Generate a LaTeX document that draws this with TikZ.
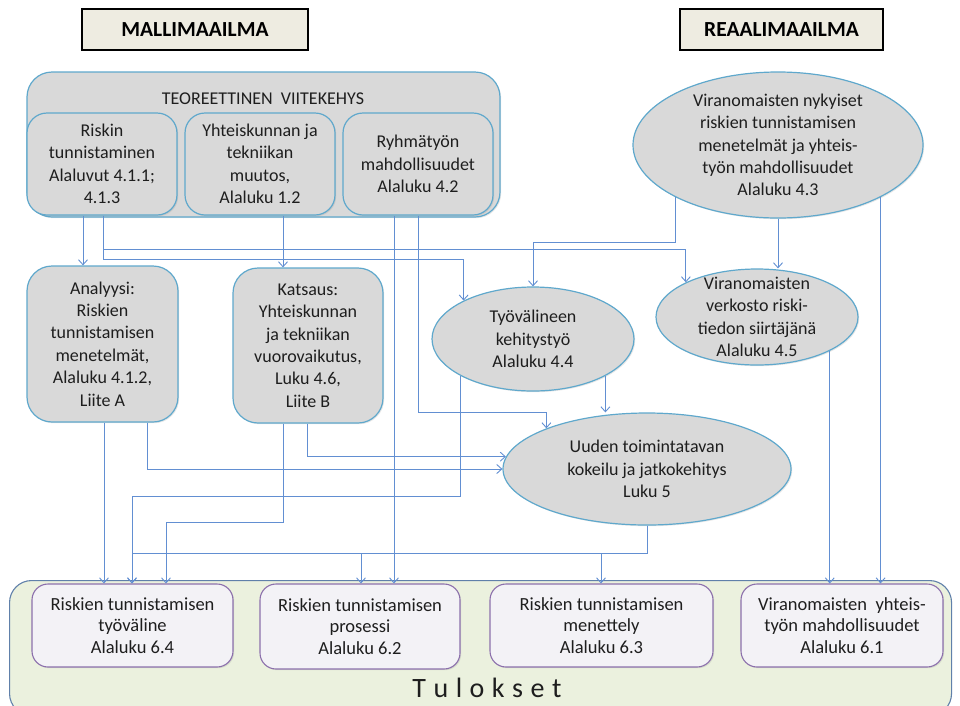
\documentclass[tikz,border=0pt]{standalone}
\usepackage{fontspec}
\setmainfont{Carlito}
\usetikzlibrary{arrows.meta,shapes.geometric,shadows}

\definecolor{boxfill}{RGB}{217,217,217}
\definecolor{boxline}{RGB}{95,168,204}
\definecolor{arrcol}{RGB}{98,143,210}
\definecolor{hdrfill}{RGB}{238,236,225}
\definecolor{resfill}{RGB}{243,242,246}
\definecolor{resline}{RGB}{140,112,172}
\definecolor{totfill}{RGB}{235,241,222}
\definecolor{totline}{RGB}{96,128,170}
\definecolor{txtcol}{RGB}{30,30,30}

\begin{document}
\begin{tikzpicture}[x=1pt,y=-1pt,
  txt/.style={font=\fontsize{18}{22.4}\selectfont, align=center, text=txtcol},
  restxt/.style={font=\fontsize{18.5}{21.5}\selectfont, align=center, text=txtcol},
  gbox/.style={txt, draw=boxline, line width=1.2pt, fill=boxfill, rounded corners=20pt, inner sep=0pt,
    drop shadow={shadow xshift=1.2pt, shadow yshift=-1.2pt, opacity=0.2}},
  ell/.style={ellipse, draw=boxline, line width=1.2pt, fill=boxfill, inner sep=0pt,
    drop shadow={shadow xshift=1.2pt, shadow yshift=-1.2pt, opacity=0.2}},
  hdr/.style={draw=black, line width=2.5pt, fill=hdrfill, inner sep=0pt,
    font=\bfseries\fontsize{21.5}{25}\selectfont, text=black},
  resbox/.style={restxt, draw=resline, line width=1.1pt, fill=resfill, rounded corners=16pt, inner sep=0pt,
    drop shadow={shadow xshift=1.2pt, shadow yshift=-1.2pt, opacity=0.2}},
  tot/.style={draw=totline, line width=1.1pt, fill=totfill, rounded corners=22pt, inner sep=0pt},
  arr/.style={draw=arrcol, line width=0.9pt, -{Straight Barb[length=5pt,width=9pt]}}
]
\useasboundingbox (0,0) rectangle (960,705);

% headers
\node[hdr, minimum width=226pt, minimum height=41pt] (mal) at (195,29.5) {MALLIMAAILMA};
\node[hdr, minimum width=203pt, minimum height=41pt] (rea) at (781.5,29.5) {REAALIMAAILMA};

% results container
\node[tot, minimum width=942pt, minimum height=135pt, anchor=north west] (tul) at (9,580) {};
\node[font=\fontsize{28}{32}\selectfont, text=txtcol] (tultxt) at (487,688)
  {T\hspace{7.5pt}u\hspace{7.5pt}l\hspace{7.5pt}o\hspace{7.5pt}k\hspace{7.5pt}s\hspace{7.5pt}e\hspace{7.5pt}t};

% theoretical frame
\node[gbox, rounded corners=25pt, minimum width=473pt, minimum height=145pt] (teor) at (263.5,144.5) {};
\node[txt] (teortitle) at (263,99) {TEOREETTINEN\ \ VIITEKEHYS};
\node[gbox, minimum width=150pt, minimum height=102pt] (riskin) at (102,164)
  {Riskin\\tunnistaminen\\Alaluvut 4.1.1;\\4.1.3};
\node[gbox, minimum width=150pt, minimum height=102pt] (yht) at (260,164)
  {Yhteiskunnan ja\\tekniikan\\muutos,\\Alaluku 1.2};
\node[gbox, minimum width=150pt, minimum height=102pt] (ryhm) at (418,164)
  {Ryhmätyön\\mahdollisuudet\\Alaluku 4.2};

% middle boxes
\node[gbox, rounded corners=25pt, minimum width=151pt, minimum height=156pt] (analyysi) at (102.5,344)
  {Analyysi:\\Riskien\\tunnistamisen\\menetelmät,\\Alaluku 4.1.2,\\Liite A};
\node[gbox, rounded corners=25pt, minimum width=150pt, minimum height=155pt] (katsaus) at (308,345.5)
  {Katsaus:\\Yhteiskunnan\\ja tekniikan\\vuorovaikutus,\\Luku 4.6,\\Liite B};

% ellipses
\node[ell, minimum width=290pt, minimum height=146pt,
  label={[txt]center:{Viranomaisten nykyiset\\riskien tunnistamisen\\menetelmät ja yhteis-\\työn mahdollisuudet\\Alaluku 4.3}}]
  (e43) at (778,145) {};
\node[ell, minimum width=202pt, minimum height=104pt,
  label={[txt]center:{Työvälineen\\kehitystyö\\Alaluku 4.4}}]
  (e44) at (533,339) {};
\node[ell, minimum width=202pt, minimum height=96pt,
  label={[txt]center:{Viranomaisten\\verkosto riski-\\tiedon siirtäjänä\\Alaluku 4.5}}]
  (e45) at (757,317) {};
\node[ell, minimum width=288pt, minimum height=112pt,
  label={[txt]center:{Uuden toimintatavan\\kokeilu\ ja jatkokehitys\\Luku 5}}]
  (e5) at (647,469) {};

% result boxes
\node[resbox, minimum width=201pt, minimum height=83pt] (r1) at (132.5,625.5)
  {Riskien tunnistamisen\\työväline\\Alaluku 6.4};
\node[resbox, minimum width=200pt, minimum height=85pt] (r2) at (360,626.5)
  {Riskien tunnistamisen\\prosessi\\Alaluku 6.2};
\node[resbox, minimum width=223pt, minimum height=83pt] (r3) at (601.5,625.5)
  {Riskien tunnistamisen\\menettely\\Alaluku 6.3};
\node[resbox, minimum width=202pt, minimum height=83pt] (r4) at (842,625.5)
  {Viranomaisten\ \ yhteis-\\työn mahdollisuudet\\Alaluku 6.1};

% routing helpers
\coordinate (x83) at (83,0);
\coordinate (x103) at (103,0);
\coordinate (x104) at (104,0);
\coordinate (x132) at (132,0);
\coordinate (x147) at (147,0);
\coordinate (x166) at (166,0);
\coordinate (x283) at (283,0);
\coordinate (x307) at (307,0);
\coordinate (x361) at (361,0);
\coordinate (x394) at (394,0);
\coordinate (x418) at (418,0);
\coordinate (x601) at (601,0);
\coordinate (h242) at (0,242);
\coordinate (h249) at (0,249);
\coordinate (h259) at (0,259);
\coordinate (h412) at (0,412);
\coordinate (h496) at (0,496);
\coordinate (h522) at (0,522);
\coordinate (h553) at (0,553);

% connectors
\draw[arr] (riskin.south -| x83) -- (analyysi.north -| x83);
\draw[arr] (riskin.south -| x103) -- (x103 |- h259) -| (e44.151);
\draw[arr] (riskin.south -| x103) -- (x103 |- h249) -| (e45.154);
\draw[arr] (yht.south -| x283) -- (katsaus.north -| x283);
\draw[arr] (ryhm.south -| x418) -- (x418 |- h412) -| (e5.158);
\draw[arr] (ryhm.south -| x394) -- (r2.north -| x394);
\draw[arr] (e43.207) -- (e43.207 |- h242) -| (e44.north);
\draw[arr] (e43.south) -- (e43.south |- e45.north);
\draw[arr] (e43.333) -- (e43.333 |- r4.north);
\draw[arr] (e45.335) -- (e45.335 |- r4.north);
\draw[arr] (analyysi.south -| x104) -- (r1.north -| x104);
\draw[arr] (analyysi.south -| x147) |- (e5.west);
\draw[arr] (katsaus.south -| x307) |- (e5.175);
\draw[arr] (katsaus.south -| x283) -- (x283 |- h522) -| (r1.north -| x166);
\draw[arr] (e44.207) -- (e44.207 |- h496) -| (r1.north -| x132);
\draw[arr] (e44.333) -- (e44.333 |- e5.north);
\draw[arr] (e5.south) -- (e5.south |- h553) -| (r1.north -| x132);
\draw[arr] (e5.south) -- (e5.south |- h553) -| (r2.north -| x361);
\draw[arr] (e5.south) -- (e5.south |- h553) -| (r3.north -| x601);
\end{tikzpicture}
\end{document}
